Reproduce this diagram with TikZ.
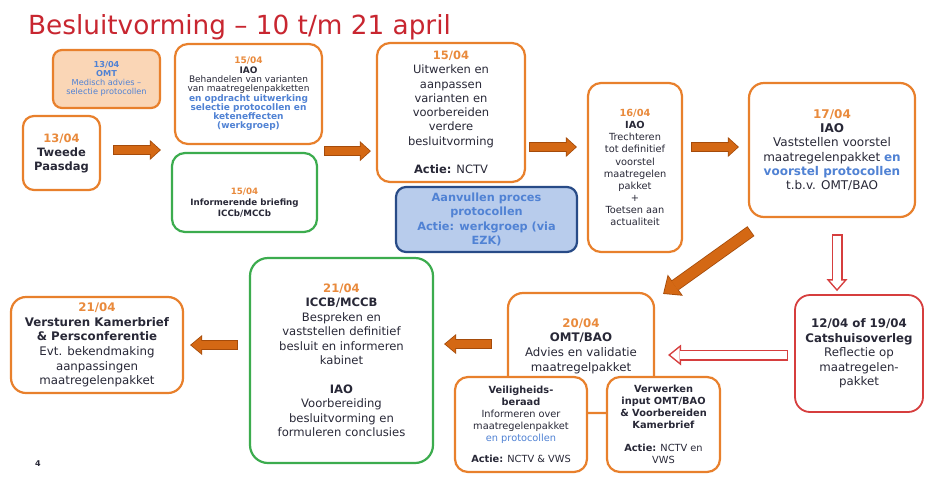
\documentclass[tikz,border=0pt]{standalone}
\usepackage{fontspec}
\setmainfont{DejaVu Sans}
\usetikzlibrary{arrows.meta,calc}
\definecolor{boxor}{RGB}{232,128,44}
\definecolor{dateor}{RGB}{233,138,60}
\definecolor{arrfill}{RGB}{212,104,20}
\definecolor{arrdark}{RGB}{165,75,10}
\definecolor{grn}{RGB}{60,172,78}
\definecolor{redc}{RGB}{214,62,62}
\definecolor{bluet}{RGB}{80,130,212}
\definecolor{lblue}{RGB}{184,204,236}
\definecolor{dblue}{RGB}{40,75,135}
\definecolor{omtfill}{RGB}{250,214,182}
\definecolor{txt}{RGB}{40,40,55}
\definecolor{titler}{RGB}{200,38,48}
\newcommand\datum[1]{{\color{dateor}\textbf{#1}}}
\newcommand\bluebf[1]{{\color{bluet}\textbf{#1}}}
% #1 outer style, #2 inner style, #3 shaft, #4 head width, #5 head length, #6 border, #7 shorten<, #8 shorten>, #9 path
\newcommand\fatarrow[9]{%
  \pgfmathsetmacro\arrK{#6*sqrt((#4/2)^2+(#5)^2)/(#4/2)}%
  \pgfmathsetmacro\arrIL{#5-#6-\arrK}%
  \pgfmathsetmacro\arrIW{#4*\arrIL/#5}%
  \pgfmathsetmacro\arrIS{#3-2*#6}%
  \pgfmathsetmacro\arrIA{#7+#6}%
  \pgfmathsetmacro\arrIE{#8+\arrK}%
  \draw[#1, line width=#3pt, shorten <=#7pt, shorten >=#8pt,
        -{Triangle[length=#5pt, width=#4pt, line width=0pt]}] #9;
  \draw[#2, line width=\arrIS pt, shorten <=\arrIA pt, shorten >=\arrIE pt,
        -{Triangle[length=\arrIL pt, width=\arrIW pt, line width=0pt]}] #9;
}
\tikzset{
  box/.style={draw=boxor, line width=2.2pt, rounded corners=13pt, fill=white,
              align=center, inner sep=0pt, text=txt},
  gbox/.style={box, draw=grn},
  rbox/.style={box, draw=redc, line width=1.8pt},
  fs/.style 2 args={font=\fontsize{#1}{#2}\selectfont},
  plaintext/.style={align=center, inner sep=0pt, text=txt},
  arrout/.style={draw=arrdark},
  arrin/.style={draw=arrfill},
  rout/.style={draw=redc},
  rin/.style={draw=white},
}
\begin{document}
\begin{tikzpicture}[x=1pt,y=-1pt]
\fill[white] (0,0) rectangle (925,480);
\useasboundingbox (0,0) rectangle (925,480);

% title
\node[anchor=base west, inner sep=0pt, text=titler, font=\fontsize{26.3}{30}\selectfont] (title) at (28,34) {Besluitvorming – 10 t/m 21 april};

% top row
\node[box, rounded corners=9pt, fill=omtfill, minimum width=107pt, minimum height=58pt, fs={8.2}{9.2}, text=bluet] (omt) at (106.5,79)
  {\textbf{13/04}\\\textbf{OMT}\\Medisch advies –\\selectie protocollen};
\node[box, rounded corners=11pt, minimum width=77pt, minimum height=74pt, fs={11.5}{14}] (paas) at (61.5,153)
  {\datum{13/04}\\\textbf{Tweede}\\\textbf{Paasdag}};
\node[box, minimum width=147pt, minimum height=100pt, fs={9}{9.3}] (iao15) at (248.5,94)
  {\datum{15/04}\\\textbf{IAO}\\Behandelen van varianten\\van maatregelenpakketten\\\bluebf{en opdracht uitwerking}\\\bluebf{selectie protocollen en}\\\bluebf{keteneffecten}\\\bluebf{(werkgroep)}};
\node[gbox, minimum width=145pt, minimum height=79pt] (brief) at (244.5,192.5) {};
\node[plaintext, fs={8.7}{11}] (briefT) at (244.5,203)
  {\datum{15/04}\\\textbf{Informerende briefing}\\\textbf{ICCb/MCCb}};
\node[box, minimum width=148pt, minimum height=139pt, fs={11.5}{14.3}] (uitw) at (451,112.5)
  {\datum{15/04}\\Uitwerken en\\aanpassen\\varianten en\\voorbereiden\\verdere\\besluitvorming\\[14.3pt]\textbf{Actie:} NCTV};
\node[box, draw=dblue, fill=lblue, rounded corners=10pt, minimum width=181pt, minimum height=65pt, fs={11.3}{14.5}, text=bluet] (aanv) at (486.5,219.5)
  {\textbf{Aanvullen proces}\\\textbf{protocollen}\\\textbf{Actie: werkgroep (via}\\\textbf{EZK)}};
\node[box, minimum width=94pt, minimum height=169pt, fs={9.8}{12.1}] (iao16) at (635,167.5)
  {\datum{16/04}\\\textbf{IAO}\\Trechteren\\tot definitief\\voorstel\\maatregelen\\pakket\\+\\Toetsen aan\\actualiteit};
\node[box, rounded corners=15pt, minimum width=166pt, minimum height=134pt, fs={12}{14.3}] (iao17) at (832,150)
  {\datum{17/04}\\\textbf{IAO}\\Vaststellen voorstel\\maatregelenpakket \bluebf{en}\\\bluebf{voorstel protocollen}\\t.b.v. OMT/BAO};

% right / bottom row
\node[rbox, rounded corners=15pt, minimum width=128pt, minimum height=117pt, fs={11.8}{14.5}] (cats) at (859,353.5)
  {\textbf{12/04 of 19/04}\\\textbf{Catshuisoverleg}\\Reflectie op\\maatregelen-\\pakket};
\node[box, rounded corners=15pt, minimum width=146pt, minimum height=120pt] (omtbao) at (581,353) {};
\node[plaintext, fs={11.8}{14.6}] (omtT) at (581,346)
  {\datum{20/04}\\\textbf{OMT/BAO}\\Advies en validatie\\maatregelpakket};
\node[box, rounded corners=13pt, minimum width=132pt, minimum height=95pt, fs={9.8}{12}] (veil) at (521,424.5)
  {\textbf{Veiligheids-}\\\textbf{beraad}\\Informeren over\\maatregelenpakket\\{\color{bluet}en protocollen}\\[9pt]\textbf{Actie:} NCTV \& VWS};
\node[box, rounded corners=13pt, minimum width=113pt, minimum height=95pt, fs={9.8}{12}] (verw) at (663.5,424.5)
  {\textbf{Verwerken}\\\textbf{input OMT/BAO}\\\textbf{\& Voorbereiden}\\\textbf{Kamerbrief}\\[11pt]\textbf{Actie:} NCTV en\\VWS};
\node[gbox, rounded corners=18pt, minimum width=183pt, minimum height=205pt, fs={11.6}{14.5}] (iccb) at (341.5,360.5)
  {\datum{21/04}\\\textbf{ICCB/MCCB}\\Bespreken en\\vaststellen definitief\\besluit en informeren\\kabinet\\[14pt]\textbf{IAO}\\Voorbereiding\\besluitvorming en\\formuleren conclusies};
\node[box, rounded corners=15pt, minimum width=172pt, minimum height=96pt, fs={11.8}{14.6}] (verst) at (97,345)
  {\datum{21/04}\\\textbf{Versturen Kamerbrief}\\\textbf{\& Persconferentie}\\Evt. bekendmaking\\aanpassingen\\maatregelenpakket};
\node[text=txt, font=\fontsize{8}{9}\selectfont\bfseries, inner sep=0pt] (pg) at (38,464) {4};

% arrows
\fatarrow{arrout}{arrin}{10}{20}{11}{0.8}{12}{13}{($(paas.east)+(0,-3)$) -- ($(iao15.west |- paas.east)+(0,-3)$)}
\fatarrow{arrout}{arrin}{10}{20}{11}{0.8}{1}{5}{($(iao15.south east)+(0,6)$) -- ($(uitw.west |- iao15.south east)+(0,6)$)}
\fatarrow{arrout}{arrin}{10}{20}{11}{0.8}{3}{10}{($(uitw.east)+(0,34.5)$) -- ($(iao16.west |- uitw.east)+(0,34.5)$)}
\fatarrow{arrout}{arrin}{10}{20}{11}{0.8}{8}{9}{($(iao16.east)+(0,-20.5)$) -- ($(iao17.west |- iao16.east)+(0,-20.5)$)}
\fatarrow{arrout}{arrin}{12}{26}{15}{0.8}{0}{0}{($(iao17.south west)+(3,13)$) -- ($(omtbao.north east)+(8,2)$)}
\fatarrow{rout}{rin}{11}{21}{12}{1.5}{16}{3}{($(iao17.south)+(5,0)$) -- ($(iao17.south |- cats.north)+(5,0)$)}
\fatarrow{rout}{rin}{11}{21}{13}{1.5}{6}{13}{($(cats.west)+(0,1.5)$) -- ($(omtbao.east |- cats.west)+(0,1.5)$)}
\fatarrow{arrout}{arrin}{10}{20}{12}{0.8}{15}{10}{($(omtbao.west)+(0,-9)$) -- ($(iccb.east |- omtbao.west)+(0,-9)$)}
\fatarrow{arrout}{arrin}{10}{20}{12}{0.8}{11}{6}{($(iccb.west)+(0,-15.5)$) -- ($(verst.east |- iccb.west)+(0,-15.5)$)}
\end{tikzpicture}
\end{document}
